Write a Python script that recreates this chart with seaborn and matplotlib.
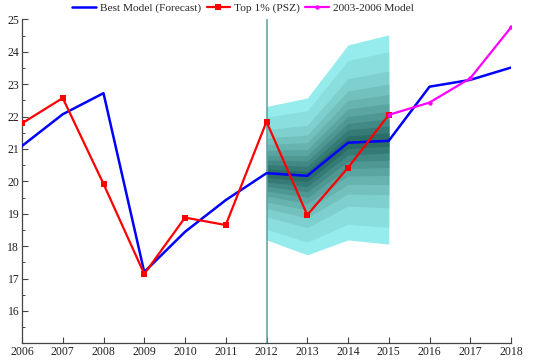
import numpy as np
import pandas as pd
import matplotlib
matplotlib.use("Agg")
import matplotlib.pyplot as plt
from matplotlib.ticker import MultipleLocator
from matplotlib.colors import to_rgb
import seaborn as sns

# Series values
years_all = [2006, 2007, 2008, 2009, 2010, 2011, 2012, 2013, 2014, 2015, 2016, 2017, 2018]
best_model = [21.09, 22.07, 22.72, 17.20, 18.44, 19.42, 20.25, 20.17, 21.19, 21.25, 22.92, 23.13, 23.51]

years_psz = [2006, 2007, 2008, 2009, 2010, 2011, 2012, 2013, 2014, 2015]
top1_psz = [21.79, 22.57, 19.92, 17.14, 18.88, 18.65, 21.84, 18.96, 20.42, 22.05]

years_old = [2015, 2016, 2017, 2018]
model_0306 = [22.05, 22.43, 23.18, 24.75]

# Forecast fan: centre line and outer half-width per year
fan_years = [2012, 2013, 2014, 2015]
fan_center = [20.25, 20.15, 21.20, 21.29]
fan_halfwidth = [2.06, 2.42, 3.01, 3.23]
# Relative half-width of each band edge, inner to outer
band_fractions = [0.064, 0.129, 0.196, 0.267, 0.344, 0.430, 0.529, 0.653, 0.839, 1.0]

df_best = pd.DataFrame({"year": years_all, "value": best_model})
df_psz = pd.DataFrame({"year": years_psz, "value": top1_psz})
df_old = pd.DataFrame({"year": years_old, "value": model_0306})

sns.set_style("ticks")
plt.rcParams["font.family"] = ["Liberation Serif", "DejaVu Serif"]

fig = plt.figure(figsize=(5.41, 3.64), dpi=100)
ax = fig.add_axes([22 / 541, 1 - 343.3 / 364, (511 - 22) / 541, (343.3 - 19.3) / 364])

# Fan bands, drawn from the outermost (lightest) to the innermost (darkest)
c_out = np.array(to_rgb("#96ecec"))
c_in = np.array(to_rgb("#2a6c66"))
fy = np.array(fan_years, dtype=float)
fc = np.array(fan_center)
fh = np.array(fan_halfwidth)
n = len(band_fractions)
for i in range(n - 1, -1, -1):
    t = i / (n - 1)
    col = c_in + (c_out - c_in) * t
    f = band_fractions[i]
    ax.fill_between(fy, fc - f * fh, fc + f * fh, color=col, linewidth=0, zorder=1)

ax.axvline(2012, color="#5b9f9f", linewidth=1.1, zorder=2)

sns.lineplot(data=df_best, x="year", y="value", ax=ax, color="#0000ff",
             linewidth=1.8, label="Best Model (Forecast)", zorder=3)
sns.lineplot(data=df_psz, x="year", y="value", ax=ax, color="#ff0000",
             linewidth=1.6, marker="s", markersize=4.5, markeredgewidth=0,
             label="Top 1% (PSZ)", zorder=4)
sns.lineplot(data=df_old, x="year", y="value", ax=ax, color="#ff00ff",
             linewidth=1.6, marker="o", markersize=3.2, markeredgewidth=0,
             label="2003-2006 Model", zorder=5)

ax.set_xlim(2006, 2018)
ax.set_ylim(15, 25)
ax.set_xticks(years_all)
ax.set_xticklabels([str(y) for y in years_all])
ax.set_yticks(range(16, 26))
ax.yaxis.set_minor_locator(MultipleLocator(0.5))
ax.set_xlabel("")
ax.set_ylabel("")

for side in ("top", "right"):
    ax.spines[side].set_visible(False)
for side in ("left", "bottom"):
    ax.spines[side].set_color("#444444")
    ax.spines[side].set_linewidth(0.9)

ax.tick_params(axis="both", which="major", direction="in", length=4, width=0.8,
               color="#444444", labelsize=8.5, labelcolor="#222222", pad=2)
ax.tick_params(axis="y", which="minor", direction="in", length=2.2, width=0.7,
               color="#444444")
ax.tick_params(axis="x", which="minor", length=0)

handles, labels = ax.get_legend_handles_labels()
ax.get_legend().remove()
fig.legend(handles, labels, loc="center", bbox_to_anchor=(243 / 541, 1 - 8 / 364),
           ncol=3, frameon=False, fontsize=8.2, handlelength=2.1, handletextpad=0.3,
           columnspacing=0.5, borderaxespad=0, borderpad=0)

fig.savefig("out.png", dpi=100)
